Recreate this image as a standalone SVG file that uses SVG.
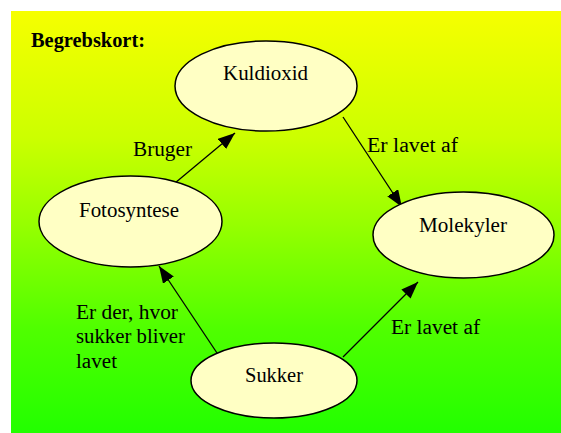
<svg xmlns="http://www.w3.org/2000/svg" width="561" height="433" viewBox="0 0 561 433">
  <defs>
    <linearGradient id="bg" x1="0" y1="0" x2="0" y2="1">
      <stop offset="0" stop-color="#f6ff00"/>
      <stop offset="0.3" stop-color="#ccff00"/>
      <stop offset="0.5" stop-color="#98ff00"/>
      <stop offset="0.75" stop-color="#50ff00"/>
      <stop offset="1" stop-color="#22ff00"/>
    </linearGradient>
    <marker id="arrow" viewBox="0 0 17 13" refX="17" refY="6.5" markerWidth="17" markerHeight="13" markerUnits="userSpaceOnUse" orient="auto">
      <path d="M0,0 L17,6.5 L0,13 Z" fill="#000"/>
    </marker>
    <style>
      .node ellipse { fill: #ffffc4; stroke: #000; stroke-width: 1.5; }
      .label { font-family: "Liberation Serif", "Times New Roman", serif; font-size: 20px; fill: #000; }
      .title { font-family: "Liberation Serif", "Times New Roman", serif; font-size: 20px; font-weight: bold; fill: #000; }
      .edge { stroke: #000; stroke-width: 1.3; fill: none; marker-end: url(#arrow); }
    </style>
  </defs>

  <!-- background panel -->
  <rect x="11" y="11" width="550" height="422" fill="url(#bg)"/>

  <text class="title" x="31" y="47" textLength="114" lengthAdjust="spacingAndGlyphs">Begrebskort:</text>

  <!-- connectors and their labels -->
  <g id="connectors">
    <line class="edge" x1="175" y1="183" x2="235" y2="133"/>
    <line class="edge" x1="343" y1="117" x2="402" y2="207"/>
    <line class="edge" x1="217" y1="353" x2="159" y2="266"/>
    <line class="edge" x1="343" y1="357" x2="418" y2="282"/>
    <text class="label" x="133" y="156" textLength="59" lengthAdjust="spacingAndGlyphs">Bruger</text>
    <text class="label" x="367" y="152" textLength="91" lengthAdjust="spacingAndGlyphs">Er lavet af</text>
    <text class="label" x="391" y="334" textLength="89" lengthAdjust="spacingAndGlyphs">Er lavet af</text>
    <text class="label" x="76" y="319" textLength="102" lengthAdjust="spacingAndGlyphs">Er der, hvor</text>
    <text class="label" x="76" y="343" textLength="109" lengthAdjust="spacingAndGlyphs">sukker bliver</text>
    <text class="label" x="76" y="368" textLength="41" lengthAdjust="spacingAndGlyphs">lavet</text>
  </g>

  <!-- nodes -->
  <g id="kuldioxid" class="node">
    <ellipse cx="266" cy="86" rx="91" ry="45"/>
    <text class="label" x="223" y="80" textLength="85" lengthAdjust="spacingAndGlyphs">Kuldioxid</text>
  </g>
  <g id="molekyler" class="node">
    <ellipse cx="463.5" cy="235" rx="90.5" ry="43"/>
    <text class="label" x="419" y="232" textLength="88" lengthAdjust="spacingAndGlyphs">Molekyler</text>
  </g>
  <g id="fotosyntese" class="node">
    <ellipse cx="130.5" cy="221.5" rx="91.5" ry="45.5"/>
    <text class="label" x="79" y="217" textLength="100" lengthAdjust="spacingAndGlyphs">Fotosyntese</text>
  </g>
  <g id="sukker" class="node">
    <ellipse cx="274" cy="380.5" rx="83" ry="37.5"/>
    <text class="label" x="245" y="382" textLength="58" lengthAdjust="spacingAndGlyphs">Sukker</text>
  </g>
</svg>
